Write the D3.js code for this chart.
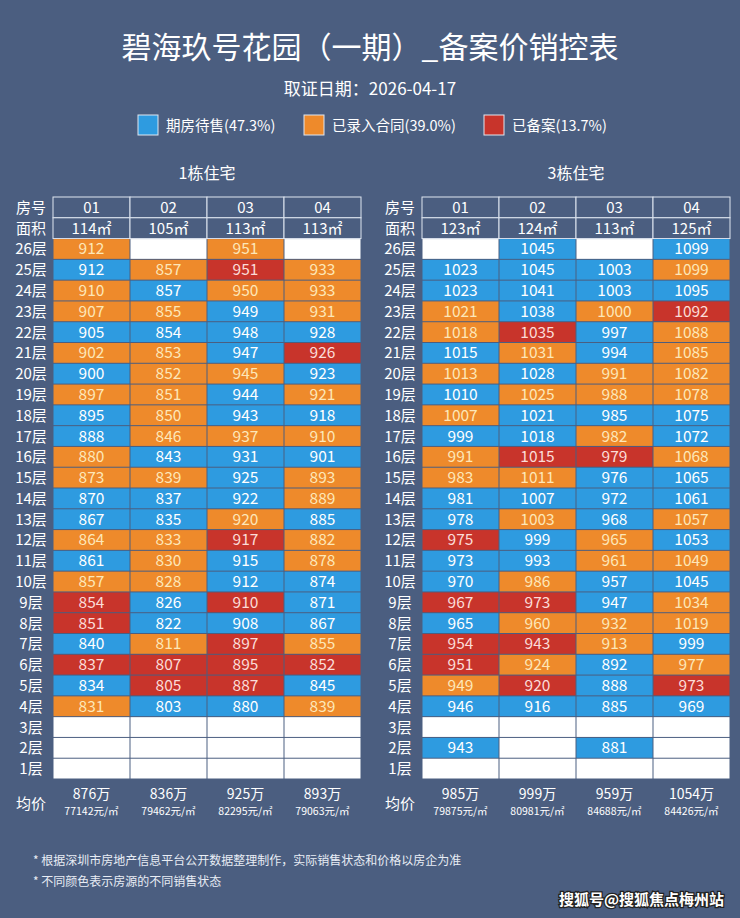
<!DOCTYPE html>
<html><head><meta charset="utf-8">
<script src="https://cdn.jsdelivr.net/npm/d3@7"></script>
<style>body{margin:0;background:#4b5e80;}svg{display:block;font-family:"Noto Sans CJK SC","Noto Sans",sans-serif;}</style>
</head><body><svg id="c" width="740" height="918"></svg>
<script>
const title = "碧海玖号花园（一期）_备案价销控表";
const subtitle = "取证日期：2026-04-17";
const legendLabels = ["期房待售(47.3%)", "已录入合同(39.0%)", "已备案(13.7%)"];
const floors = d3.range(26, 0, -1).map(f => f + "层");
const units = ["01", "02", "03", "04"];

const b1Name = "1栋住宅";
const b1Area = ["114㎡", "105㎡", "113㎡", "113㎡"];
// status per floor 26..1: B=待售, O=录入合同, R=已备案, W=空
const b1Status = [
  "OBOOBOBOBBOOBBOBORRBRBOWWW",
  "WOBOBOOOOOBOBBOOOBBORRBWWW",
  "OROBBBOBBOBBBORBBRBRRRBWWW",
  "WOOOBRBOBOBOOBOOBBBORBOWWW"
];
const b1Values = [
  [912,912,910,907,905,902,900,897,895,888,880,873,870,867,864,861,857,854,851,840,837,834,831,null,null,null],
  [null,857,857,855,854,853,852,851,850,846,843,839,837,835,833,830,828,826,822,811,807,805,803,null,null,null],
  [951,951,950,949,948,947,945,944,943,937,931,925,922,920,917,915,912,910,908,897,895,887,880,null,null,null],
  [null,933,933,931,928,926,923,921,918,910,901,893,889,885,882,878,874,871,867,855,852,845,839,null,null,null]
];
const b1Total = ["876万", "836万", "925万", "893万"];
const b1Unit = ["77142元/㎡", "79462元/㎡", "82295元/㎡", "79063元/㎡"];

const b3Name = "3栋住宅";
const b3Area = ["123㎡", "124㎡", "113㎡", "125㎡"];
const b3Status = [
  "WBBOOBOBOBOOBBRBBRBRROBWBW",
  "BBBBROBOBBROBOBBORORORBWWW",
  "WBBOBBOOBORBBBOOBBOOBBBWBW",
  "BOBROOOOBBOBBOBOBOOBORBWWW"
];
const b3Values = [
  [null,1023,1023,1021,1018,1015,1013,1010,1007,999,991,983,981,978,975,973,970,967,965,954,951,949,946,null,943,null],
  [1045,1045,1041,1038,1035,1031,1028,1025,1021,1018,1015,1011,1007,1003,999,993,986,973,960,943,924,920,916,null,null,null],
  [null,1003,1003,1000,997,994,991,988,985,982,979,976,972,968,965,961,957,947,932,913,892,888,885,null,881,null],
  [1099,1099,1095,1092,1088,1085,1082,1078,1075,1072,1068,1065,1061,1057,1053,1049,1045,1034,1019,999,977,973,969,null,null,null]
];
const b3Total = ["985万", "999万", "959万", "1054万"];
const b3Unit = ["79875元/㎡", "80981元/㎡", "84688元/㎡", "84426元/㎡"];
const notes = ["* 根据深圳市房地产信息平台公开数据整理制作，实际销售状态和价格以房企为准", "* 不同颜色表示房源的不同销售状态"];
const watermark = "搜狐号@搜狐焦点梅州站";

const fill = {B:"#2e9be0", O:"#ee8a2b", R:"#c8342b", W:"#ffffff"};
const txt = {B:"#ffffff", O:"#fde7b8", R:"#fbdcd8", W:"#fff"};
const bg = "#4b5e80";

const svg = d3.select("#c");
svg.append("rect").attr("width",740).attr("height",918).attr("fill",bg);
svg.append("text").attr("x",370).attr("y",58).attr("text-anchor","middle").attr("fill","#fff").attr("font-size",30).text(title);
svg.append("text").attr("x",370).attr("y",95).attr("text-anchor","middle").attr("fill","#fff").attr("font-size",17).text(subtitle);
const legX = [138, 304, 484], legK = ["B","O","R"];
legendLabels.forEach((l,i)=>{
  svg.append("rect").attr("x",legX[i]).attr("y",115).attr("width",20).attr("height",20).attr("fill",fill[legK[i]]).attr("stroke","#dfe6f0").attr("stroke-width",1);
  svg.append("text").attr("x",legX[i]+28).attr("y",131).attr("fill","#fff").attr("font-size",14.5).text(l);
});

function building(x0, name, area, status, values, total, unit){
  const labX = x0, colX0 = x0 + 41, colW = 77;
  const x = d3.scaleBand().domain(units).range([colX0, colX0 + colW*4]);
  const rows = ["房号","面积"].concat(floors);
  const y = d3.scaleBand().domain(rows).range([197, 779]);
  const g = svg.append("g");
  g.append("text").attr("x",colX0+154).attr("y",179).attr("text-anchor","middle").attr("fill","#fff").attr("font-size",16).text(name);
  ["房号","面积"].forEach((r,ri)=>{
    g.append("text").attr("x",labX+19).attr("y",y(r)+y.bandwidth()/2+5.5).attr("text-anchor","middle").attr("fill","#fff").attr("font-size",15).text(r);
    units.forEach((u,ci)=>{
      g.append("rect").attr("x",x(u)).attr("y",y(r)).attr("width",x.bandwidth()).attr("height",y.bandwidth()).attr("fill",bg).attr("stroke","#dfe6f0").attr("stroke-width",1);
      g.append("text").attr("x",x(u)+x.bandwidth()/2).attr("y",y(r)+y.bandwidth()/2+5.5).attr("text-anchor","middle").attr("fill","#fff").attr("font-size",15).text(ri==0?u:area[ci]);
    });
  });
  floors.forEach((f,fi)=>{
    g.append("text").attr("x",labX+19).attr("y",y(f)+y.bandwidth()/2+5.5).attr("text-anchor","middle").attr("fill","#fff").attr("font-size",15).text(f);
    units.forEach((u,ci)=>{
      const s = status[ci][fi];
      g.append("rect").attr("x",x(u)+0.5).attr("y",y(f)+0.5).attr("width",x.bandwidth()-1).attr("height",y.bandwidth()-1).attr("fill",fill[s]);
      const v = values[ci][fi];
      if(v!=null) g.append("text").attr("x",x(u)+x.bandwidth()/2).attr("y",y(f)+y.bandwidth()/2+5.5).attr("text-anchor","middle").attr("fill",txt[s]).attr("font-size",15.5).text(v);
    });
  });
  g.append("text").attr("x",labX+19).attr("y",809).attr("text-anchor","middle").attr("fill","#fff").attr("font-size",15).text("均价");
  units.forEach((u,ci)=>{
    g.append("text").attr("x",x(u)+x.bandwidth()/2).attr("y",799).attr("text-anchor","middle").attr("fill","#fff").attr("font-size",14).text(total[ci]);
    g.append("text").attr("x",x(u)+x.bandwidth()/2).attr("y",815).attr("text-anchor","middle").attr("fill","#fff").attr("font-size",10.5).text(unit[ci]);
  });
}
building(12, b1Name, b1Area, b1Status, b1Values, b1Total, b1Unit);
building(381, b3Name, b3Area, b3Status, b3Values, b3Total, b3Unit);

notes.forEach((n,i)=>svg.append("text").attr("x",33).attr("y",865+i*21).attr("fill","#e8edf5").attr("font-size",12).text(n));
svg.append("text").attr("x",724).attr("y",905).attr("text-anchor","end").attr("fill","#fff").attr("font-size",15).attr("font-weight","bold")
  .attr("stroke","#222").attr("stroke-width",2.5).attr("paint-order","stroke").text(watermark);
</script></body></html>
